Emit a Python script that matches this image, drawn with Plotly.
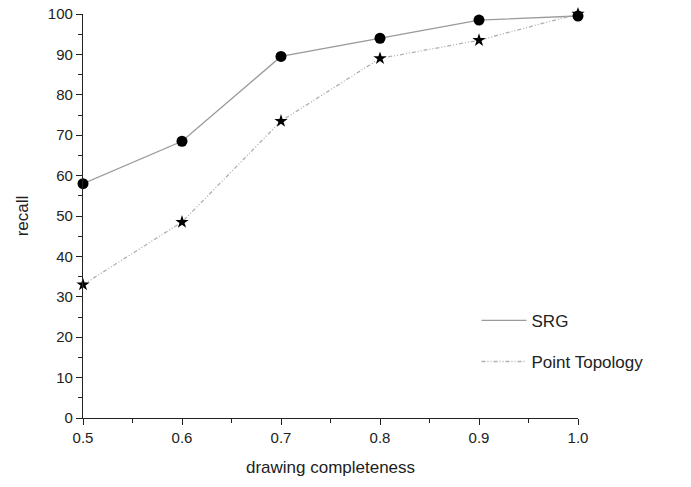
import plotly.graph_objects as go

completeness = [0.5, 0.6, 0.7, 0.8, 0.9, 1.0]
srg_recall = [58, 68.5, 89.5, 94, 98.5, 99.5]
pt_recall = [33, 48.5, 73.5, 89, 93.5, 100]

x_ticks = [0.5, 0.6, 0.7, 0.8, 0.9, 1.0]
x_tick_labels = ["0.5", "0.6", "0.7", "0.8", "0.9", "1.0"]
y_ticks = list(range(0, 101, 10))

FONT = "Liberation Sans, Arial, sans-serif"

fig = go.Figure()

# lines (legend entries)
fig.add_trace(go.Scatter(x=completeness, y=srg_recall, mode="lines", name="SRG",
                         line=dict(color="#9a9a9a", width=1.3), legendgroup="a"))
fig.add_trace(go.Scatter(x=completeness, y=pt_recall, mode="lines", name="Point Topology",
                         line=dict(color="#b0b0b0", width=1.3, dash="4px,2px,1px,2px,1px,2px"),
                         legendgroup="b"))
# markers
fig.add_trace(go.Scatter(x=completeness, y=srg_recall, mode="markers", showlegend=False,
                         marker=dict(symbol="circle", size=11, color="black"), cliponaxis=False))
fig.add_trace(go.Scatter(x=completeness, y=pt_recall, mode="markers", showlegend=False,
                         marker=dict(symbol="star", size=10, color="black"), cliponaxis=False))

fig.update_layout(
    width=691, height=487,
    margin=dict(l=83, r=113, t=14, b=69, autoexpand=False),
    paper_bgcolor="white", plot_bgcolor="white",
    font=dict(family=FONT, size=15, color="#222"),
    showlegend=True,
    legend=dict(x=0.795, y=0.285, xanchor="left", yanchor="top",
                font=dict(size=17, family=FONT, color="#222"),
                tracegroupgap=16, itemwidth=45, bgcolor="rgba(0,0,0,0)"),
    xaxis=dict(range=[0.5, 1.0], tickvals=x_ticks, ticktext=x_tick_labels, automargin=False,
               showgrid=False, zeroline=False, showline=True, linecolor="#222", linewidth=1.2,
               ticks="outside", ticklen=6, tickcolor="#222",
               minor=dict(dtick=0.05, ticks="outside", ticklen=4, tickcolor="#222"),
               tickfont=dict(size=15),
               title=dict(text="drawing completeness", font=dict(size=17), standoff=16)),
    yaxis=dict(range=[0, 100], tickvals=y_ticks, automargin=False,
               showgrid=False, zeroline=False, showline=True, linecolor="#222", linewidth=1.2,
               ticks="outside", ticklen=6, tickcolor="#222",
               minor=dict(dtick=5, ticks="outside", ticklen=4, tickcolor="#222"),
               tickfont=dict(size=15),
               title=dict(text="recall", font=dict(size=17), standoff=14)),
)

fig.write_html("out.html")
